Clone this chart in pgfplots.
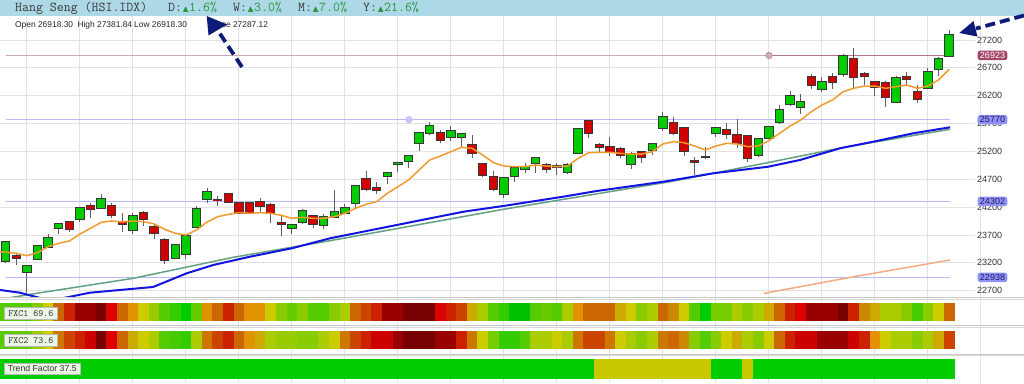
\documentclass[border=0pt]{standalone}
\usepackage{fontspec}
\setmainfont{Liberation Sans}
\newfontfamily\dejavu{DejaVu Sans}
\usepackage{pgfplots}
\usepackage{pgfplotstable}
\pgfplotsset{compat=1.18}

\definecolor{hdrblue}{RGB}{173,216,230}
\definecolor{hdrtext}{RGB}{60,60,60}
\definecolor{upgreen}{RGB}{40,150,60}
\definecolor{gridc}{RGB}{226,226,226}
\definecolor{cgreen}{RGB}{0,204,0}
\definecolor{cred}{RGB}{210,0,0}
\definecolor{coutline}{RGB}{55,55,55}
\definecolor{cwick}{RGB}{95,95,95}
\definecolor{emaor}{RGB}{240,155,45}
\definecolor{mablue}{RGB}{20,20,225}
\definecolor{magreen}{RGB}{100,160,130}
\definecolor{maor2}{RGB}{245,170,130}
\definecolor{refblue}{RGB}{185,185,250}
\definecolor{refmar}{RGB}{205,170,182}
\definecolor{refmar2}{RGB}{180,115,140}
\definecolor{boxmar}{RGB}{165,70,105}
\definecolor{boxblue}{RGB}{145,145,250}
\definecolor{navyarr}{RGB}{12,28,120}
\definecolor{labgray}{RGB}{50,50,50}
\definecolor{lblbg}{RGB}{236,246,228}
\definecolor{sepgray}{RGB}{200,200,200}

\pgfplotsset{colormap={heat}{rgb255=(119,0,0) rgb255=(153,0,0) rgb255=(204,0,0) rgb255=(221,0,0) rgb255=(204,34,0) rgb255=(204,68,0) rgb255=(204,102,0) rgb255=(204,119,0) rgb255=(204,136,0) rgb255=(226,146,0) rgb255=(204,170,0) rgb255=(204,204,0) rgb255=(170,204,0) rgb255=(153,204,0) rgb255=(136,204,0) rgb255=(119,204,0) rgb255=(102,204,0) rgb255=(85,204,0) rgb255=(68,204,0) rgb255=(51,204,0) rgb255=(0,204,0) rgb255=(0,192,0) rgb255=(200,200,0)}}

\pgfdeclareplotmark{cellA}{\pgfpathrectangle{\pgfpoint{-5.35pt}{-8.7pt}}{\pgfpoint{10.7pt}{17.4pt}}\pgfusepathqfill}
\pgfdeclareplotmark{cellB}{\pgfpathrectangle{\pgfpoint{-5.35pt}{-9.3pt}}{\pgfpoint{10.7pt}{18.6pt}}\pgfusepathqfill}
\pgfdeclareplotmark{cellC}{\pgfpathrectangle{\pgfpoint{-5.35pt}{-10pt}}{\pgfpoint{10.7pt}{20pt}}\pgfusepathqfill}

\pgfplotstableread{
i O H L C ema f1 f2 t
0 23238 23591 23191 23574 23390 17 17 20
1 23328 23358 23155 23286 23370 17 16 20
2 23041 23149 22652 23149 23328 17 16 20
3 23274 23520 23250 23502 23382 14 13 20
4 23490 23717 23466 23645 23490 11 11 20
5 23831 23921 23717 23891 23550 6 7 20
6 23927 23951 23759 23801 23591 4 5 20
7 23981 24178 23939 24178 23717 1 4 20
8 24214 24280 23999 24166 23819 1 2 20
9 24190 24429 24160 24352 23927 0 0 20
10 24220 24280 23999 24052 23951 3 3 20
11 23939 24088 23759 23897 23933 6 6 20
12 23789 24100 23717 24040 23951 9 10 20
13 24100 24130 23861 23981 23939 11 11 20
14 23849 23897 23622 23729 23897 13 12 20
15 23610 23639 23179 23251 23801 17 17 20
16 23292 23532 23263 23514 23729 19 18 20
17 23352 23699 23263 23681 23699 20 19 20
18 23837 24220 23819 24160 23789 16 12 20
19 24340 24537 24280 24465 23933 9 7 20
20 24328 24405 24226 24322 24028 6 5 20
21 24435 24459 24268 24298 24070 4 4 20
22 24268 24268 24076 24088 24100 6 6 20
23 24268 24268 24076 24088 24088 9 9 20
24 24286 24358 24100 24226 24100 9 10 20
25 24238 24268 23909 24100 24088 11 12 20
26 23915 24040 23681 23905 24052 14 13 20
27 23831 23897 23717 23879 23999 16 13 20
28 23927 24160 23897 24136 24016 14 14 20
29 24040 24058 23819 23897 23999 17 14 20
30 23879 24076 23801 24028 23999 17 12 20
31 24028 24507 23999 24118 24028 14 11 20
32 24100 24256 24088 24190 24088 12 7 20
33 24280 24579 24178 24579 24178 6 5 20
34 24699 24854 24495 24519 24250 5 4 20
35 24543 24657 24435 24501 24298 4 2 20
36 24764 24818 24615 24818 24447 1 2 20
37 24980 24998 24836 24990 24567 1 1 20
38 25034 25124 24896 25124 24687 0 0 20
39 25345 25524 25213 25524 24866 0 0 20
40 25536 25728 25494 25656 25046 0 0 20
41 25524 25584 25345 25405 25117 3 1 20
42 25465 25656 25393 25560 25195 4 1 20
43 25465 25519 25285 25519 25273 5 4 20
44 25315 25489 25076 25177 25255 10 7 20
45 24974 24998 24747 24776 25135 12 11 20
46 24735 24854 24495 24519 24998 17 15 20
47 24435 24729 24358 24729 24938 19 19 20
48 24758 24926 24657 24896 24926 21 19 20
49 24878 24998 24806 24926 24926 21 17 20
50 24986 25106 24818 25076 24956 17 12 20
51 24956 24998 24806 24878 24938 16 12 20
52 24938 24986 24776 24914 24926 17 11 20
53 24836 24998 24794 24956 24938 12 12 20
54 25177 25602 25165 25602 25076 9 7 20
55 25752 25752 25435 25536 25177 6 5 20
56 25309 25345 25165 25273 25183 6 5 22
57 25285 25453 25117 25195 25183 6 7 22
58 25237 25273 25076 25135 25165 10 11 22
59 24974 25195 24878 25153 25153 11 12 22
60 25195 25213 24998 25106 25153 14 14 22
61 25225 25357 25135 25333 25195 12 12 22
62 25614 25913 25572 25812 25333 6 7 22
63 25704 25812 25494 25524 25375 8 6 22
64 25626 25644 25117 25207 25357 11 8 22
65 25020 25094 24776 25015 25297 17 14 22
66 25094 25285 25058 25094 25225 20 17 22
67 25524 25644 25465 25614 25297 15 14 20
68 25584 25704 25417 25507 25345 15 11 20
69 25494 25776 25255 25345 25333 12 10 20
70 25482 25494 25016 25076 25285 14 12 22
71 25135 25435 25094 25417 25297 12 14 20
72 25435 25656 25417 25632 25393 10 11 20
73 25734 26033 25692 25943 25524 6 6 20
74 26051 26290 26015 26195 25656 4 4 20
75 25991 26231 25871 26087 25764 3 2 20
76 26530 26590 26320 26392 25913 1 2 20
77 26314 26530 26272 26440 26033 1 1 20
78 26530 26602 26320 26446 26123 1 1 20
79 26584 26943 26530 26913 26272 0 1 20
80 26853 27050 26332 26542 26332 4 2 20
81 26584 26631 26392 26554 26374 8 4 20
82 26452 26470 26195 26362 26374 10 9 20
83 26434 26470 26003 26171 26332 12 11 20
84 26093 26554 26063 26512 26362 12 12 20
85 26530 26631 26392 26494 26392 14 12 20
86 26272 26392 26063 26141 26332 18 14 20
87 26332 26691 26314 26620 26374 14 12 20
88 26673 26901 26554 26853 26482 11 10 20
89 26918.30 27381.84 26918.30 27287.12 26673 6 5 20
}\data

\pgfplotsset{stripaxis/.style={anchor=south west, scale only axis,
  width=975pt, xmin=-0.54, xmax=91.44, ymin=0, ymax=1,
  hide axis, colormap name=heat, point meta min=0, point meta max=22}}

\begin{document}
\begin{tikzpicture}
\path[use as bounding box] (0pt,0pt) rectangle (1024pt,383pt);
\fill[white] (0pt,0pt) rectangle (1024pt,383pt);

% background vertical grid
\begin{axis}[at={(0pt,0pt)}, anchor=south west, scale only axis,
  width=1024pt, height=367pt, xmin=-0.54, xmax=96.07, ymin=0, ymax=1,
  xtick={2,7,...,92}, xticklabels={}, ytick=\empty,
  xmajorgrids, grid style={gridc, line width=0.9pt},
  axis line style={draw=none}, major tick length=0pt, tick style={draw=none}]
\addplot[draw=none] coordinates {(0,0.5)};
\end{axis}

% separators
\foreach \yy in {85.5,57.5,29} {
  \draw[sepgray, line width=0.7pt] (0pt,\yy pt) -- (1024pt,\yy pt);
  \draw[sepgray!70, line width=0.7pt] (0pt,\yy pt-1.8pt) -- (1024pt,\yy pt-1.8pt);
}

% main chart
\begin{axis}[at={(0pt,86.3pt)}, anchor=south west, scale only axis,
  width=975pt, height=276.7pt,
  xmin=-0.54, xmax=91.44, ymin=22591.5, ymax=27559,
  axis line style={draw=none}, major tick length=0pt, tick style={draw=none},
  xtick=\empty,
  ytick={22700,23200,23700,24200,24700,25200,25700,26200,26700,27200},
  yticklabels={22700,23200,23700,24200,24700,25200,25700,26200,26700,27200},
  yticklabel pos=right,
  yticklabel style={font=\fontsize{9}{9}\selectfont, text=labgray, inner sep=2pt},
  ymajorgrids, grid style={gridc, line width=0.9pt}]
% reference lines
\addplot[refmar, line width=0.9pt] coordinates {(0,26923) (89.1,26923)};
\addplot[refmar2, line width=1.1pt] coordinates {(72,26923) (89.1,26923)};
\addplot[refblue, line width=1.6pt] coordinates {(0,25770) (89.1,25770)};
\addplot[refblue, line width=1.6pt] coordinates {(0,24302) (89.1,24302)};
\addplot[refblue, line width=1.6pt] coordinates {(0,22938) (89.1,22938)};
% wicks
\addplot[cwick, line width=1pt, quiver={u=0, v=\thisrow{H}-\thisrow{L}}] table[x=i, y=L] {\data};
% body outlines
\addplot[coutline, line width=9.4pt, quiver={u=0, v={abs(\thisrow{C}-\thisrow{O})+36}}] table[x=i, y expr={min(\thisrow{O},\thisrow{C})-18}] {\data};
% green bodies
\addplot[cgreen, line width=7.4pt, quiver={u=0, v=\thisrow{C}-\thisrow{O}},
  restrict expr to domain={\thisrow{C}-\thisrow{O}}{0:100000}] table[x=i, y=O] {\data};
% red bodies
\addplot[cred, line width=7.4pt, quiver={u=0, v=\thisrow{O}-\thisrow{C}},
  restrict expr to domain={\thisrow{C}-\thisrow{O}}{-100000:-0.001}] table[x=i, y=C] {\data};
% moving averages
\addplot[maor2, line width=1.5pt] coordinates {(71.5,22650) (80,22950) (89.09,23250)};
\addplot[magreen, line width=1.5pt] coordinates {(0,22560) (2.92,22652) (12.04,22922) (21.47,23299) (30.6,23597) (46.94,24160) (62.67,24656) (71.94,25000) (79.35,25284) (89.09,25597)};
\addplot[mablue, line width=2pt, line join=round] coordinates {(-0.54,22712) (1.35,22663) (4.2,22520) (7.95,22663) (13.9,22766) (17.08,23012) (19.58,23161) (23.05,23310) (26.98,23460) (30.6,23640) (36.89,23879) (43.17,24117) (46.94,24220) (52.6,24387) (55.75,24489) (62.2,24660) (66.75,24807) (71.94,24925) (74.93,25046) (78.71,25256) (81.85,25374) (85.62,25525) (89.09,25633)};
\addplot[emaor, line width=1.5pt] coordinates {(-0.54,23400) (0,23390)};
\addplot[emaor, line width=1.5pt, line join=round] table[x=i, y=ema] {\data};
% circles
\addplot[only marks, mark=*, mark size=3.3pt, mark options={fill=refmar2!60, draw=refmar2}] coordinates {(72,26923)};
\addplot[only marks, mark=*, mark size=3.3pt, mark options={fill=refblue!80, draw=refblue}] coordinates {(38.05,25770)};
\coordinate (b1) at (axis cs:93.09,26923);
\coordinate (b2) at (axis cs:93.09,25770);
\coordinate (b3) at (axis cs:93.09,24302);
\coordinate (b4) at (axis cs:93.09,22938);
\end{axis}

\node[fill=boxmar, rounded corners=2.5pt, minimum width=29.6pt, minimum height=9.6pt, inner sep=0pt, text=white, font=\fontsize{9}{9}\selectfont] at (b1) {26923};
\foreach \c/\v in {b2/25770, b3/24302, b4/22938}
  \node[fill=boxblue, rounded corners=2.5pt, minimum width=29.6pt, minimum height=9.6pt, inner sep=0pt, text={rgb,255:red,30;green,30;blue,90}, font=\fontsize{9}{9}\selectfont] at (\c) {\v};

% strips
\begin{axis}[stripaxis, at={(0pt,62.3pt)}, height=17.4pt]
\addplot[scatter, only marks, mark=cellA, scatter/use mapped color={draw=mapped color, fill=mapped color}, point meta=\thisrow{f1}] table[x=i, y expr=0.5] {\data};
\end{axis}
\begin{axis}[stripaxis, at={(0pt,33.7pt)}, height=18.6pt]
\addplot[scatter, only marks, mark=cellB, scatter/use mapped color={draw=mapped color, fill=mapped color}, point meta=\thisrow{f2}] table[x=i, y expr=0.5] {\data};
\end{axis}
\begin{axis}[stripaxis, at={(0pt,3.7pt)}, height=20pt]
\addplot[scatter, only marks, mark=cellC, scatter/use mapped color={draw=mapped color, fill=mapped color}, point meta=\thisrow{t}] table[x=i, y expr=0.5] {\data};
\end{axis}

% strip labels
\node[draw=gray!55, fill=lblbg, inner sep=0pt, minimum width=53.3pt, minimum height=12pt, anchor=south west, font=\ttfamily\fontsize{9.5}{9.5}\selectfont, text=labgray] at (4pt,63.3pt) {FXC1 69.6};
\node[draw=gray!55, fill=lblbg, inner sep=0pt, minimum width=53.3pt, minimum height=11.6pt, anchor=south west, font=\ttfamily\fontsize{9.5}{9.5}\selectfont, text=labgray] at (4pt,36.7pt) {FXC2 73.6};
\node[draw=gray!55, fill=lblbg, inner sep=0pt, minimum width=76pt, minimum height=11.7pt, anchor=south west, font=\fontsize{8.7}{8.7}\selectfont, text=labgray] at (4pt,8.3pt) {Trend Factor 37.5};

% header
\fill[hdrblue] (0pt,367pt) rectangle (1024pt,383pt);
\tikzset{hdr/.style={anchor=base west, inner sep=0pt, font=\ttfamily\fontsize{13.5}{13.5}\selectfont, text=hdrtext}}
\newcommand\up{\makebox[7.09pt]{\dejavu\fontsize{7.5}{7.5}\selectfont\textcolor{upgreen}{▲}}}
\node[hdr] at (15pt,371.5pt) {Hang Seng (HSI.IDX)};
\node[hdr] at (168pt,371.5pt) {D:\up\textcolor{upgreen}{1.6\%}};
\node[hdr] at (233pt,371.5pt) {W:\up\textcolor{upgreen}{3.0\%}};
\node[hdr] at (298pt,371.5pt) {M:\up\textcolor{upgreen}{7.0\%}};
\node[hdr] at (363pt,371.5pt) {Y:\up\textcolor{upgreen}{21.6\%}};

\tikzset{ohlc/.style={anchor=base west, inner sep=0pt, font=\fontsize{8.4}{8.4}\selectfont, text=black!85}}
\node[ohlc] at (15pt,355.7pt) {Open 26918.30};
\node[ohlc] at (77.3pt,355.7pt) {High 27381.84};
\node[ohlc] at (134pt,355.7pt) {Low 26918.30};
\node[ohlc] at (209pt,355.7pt) {Close 27287.12};

% annotation arrows
\draw[navyarr, line width=3.8pt, dash pattern=on 10pt off 5pt] (242pt,316pt) -- (217.5pt,353pt);
\fill[navyarr] (206.7pt,367pt) -- (208.5pt,347.5pt) -- (227pt,358.5pt) -- cycle;
\draw[navyarr, line width=3.8pt, dash pattern=on 10pt off 5pt] (1024pt,367.5pt) -- (976pt,354.5pt);
\fill[navyarr] (959.3pt,350pt) -- (977.5pt,346.4pt) -- (973.5pt,362pt) -- cycle;
\end{tikzpicture}
\end{document}
